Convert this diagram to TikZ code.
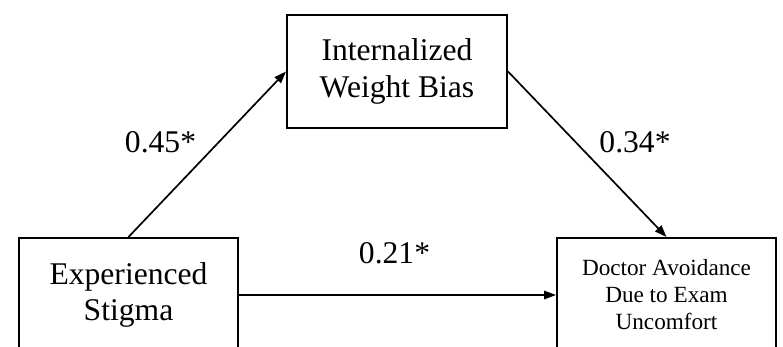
\documentclass[tikz,border=0pt]{standalone}
\usepackage{fontspec}
\setmainfont{Liberation Serif}
\usetikzlibrary{arrows.meta}
\begin{document}
\begin{tikzpicture}[x=1pt,y=-1pt,
  varbox/.style={draw=black,line width=2pt,minimum width=219pt,minimum height=114pt,inner sep=0pt,align=center,
    font=\fontsize{31.6}{36.5}\selectfont},
  smallbox/.style={varbox,font=\fontsize{23.2}{27}\selectfont},
  path/.style={line width=1.7pt,-{Triangle[length=12pt,width=8.5pt]}},
  coef/.style={font=\fontsize{31.6}{36.5}\selectfont,anchor=base,inner sep=0pt}]
\clip (0,0) rectangle (783,346);
\useasboundingbox (0,0) rectangle (783,346);
\node[varbox,minimum width=220pt,minimum height=113pt] (ib) at (397,71.5) {Internalized\\Weight Bias};
\node[varbox] (es) at (128.5,295) {Experienced\\Stigma};
\node[smallbox] (da) at (666.5,295) {Doctor Avoidance\\Due to Exam\\Uncomfort};
\draw[path] (es.north) -- (ib.west);
\draw[path] (ib.east) -- (da.north);
\draw[path] (es.east) -- (da.west);
\node[coef] (c1) at (160.5,152) {0.45*};
\node[coef] (c2) at (635,152) {0.34*};
\node[coef] (c3) at (394.5,263) {0.21*};
\end{tikzpicture}
\end{document}
